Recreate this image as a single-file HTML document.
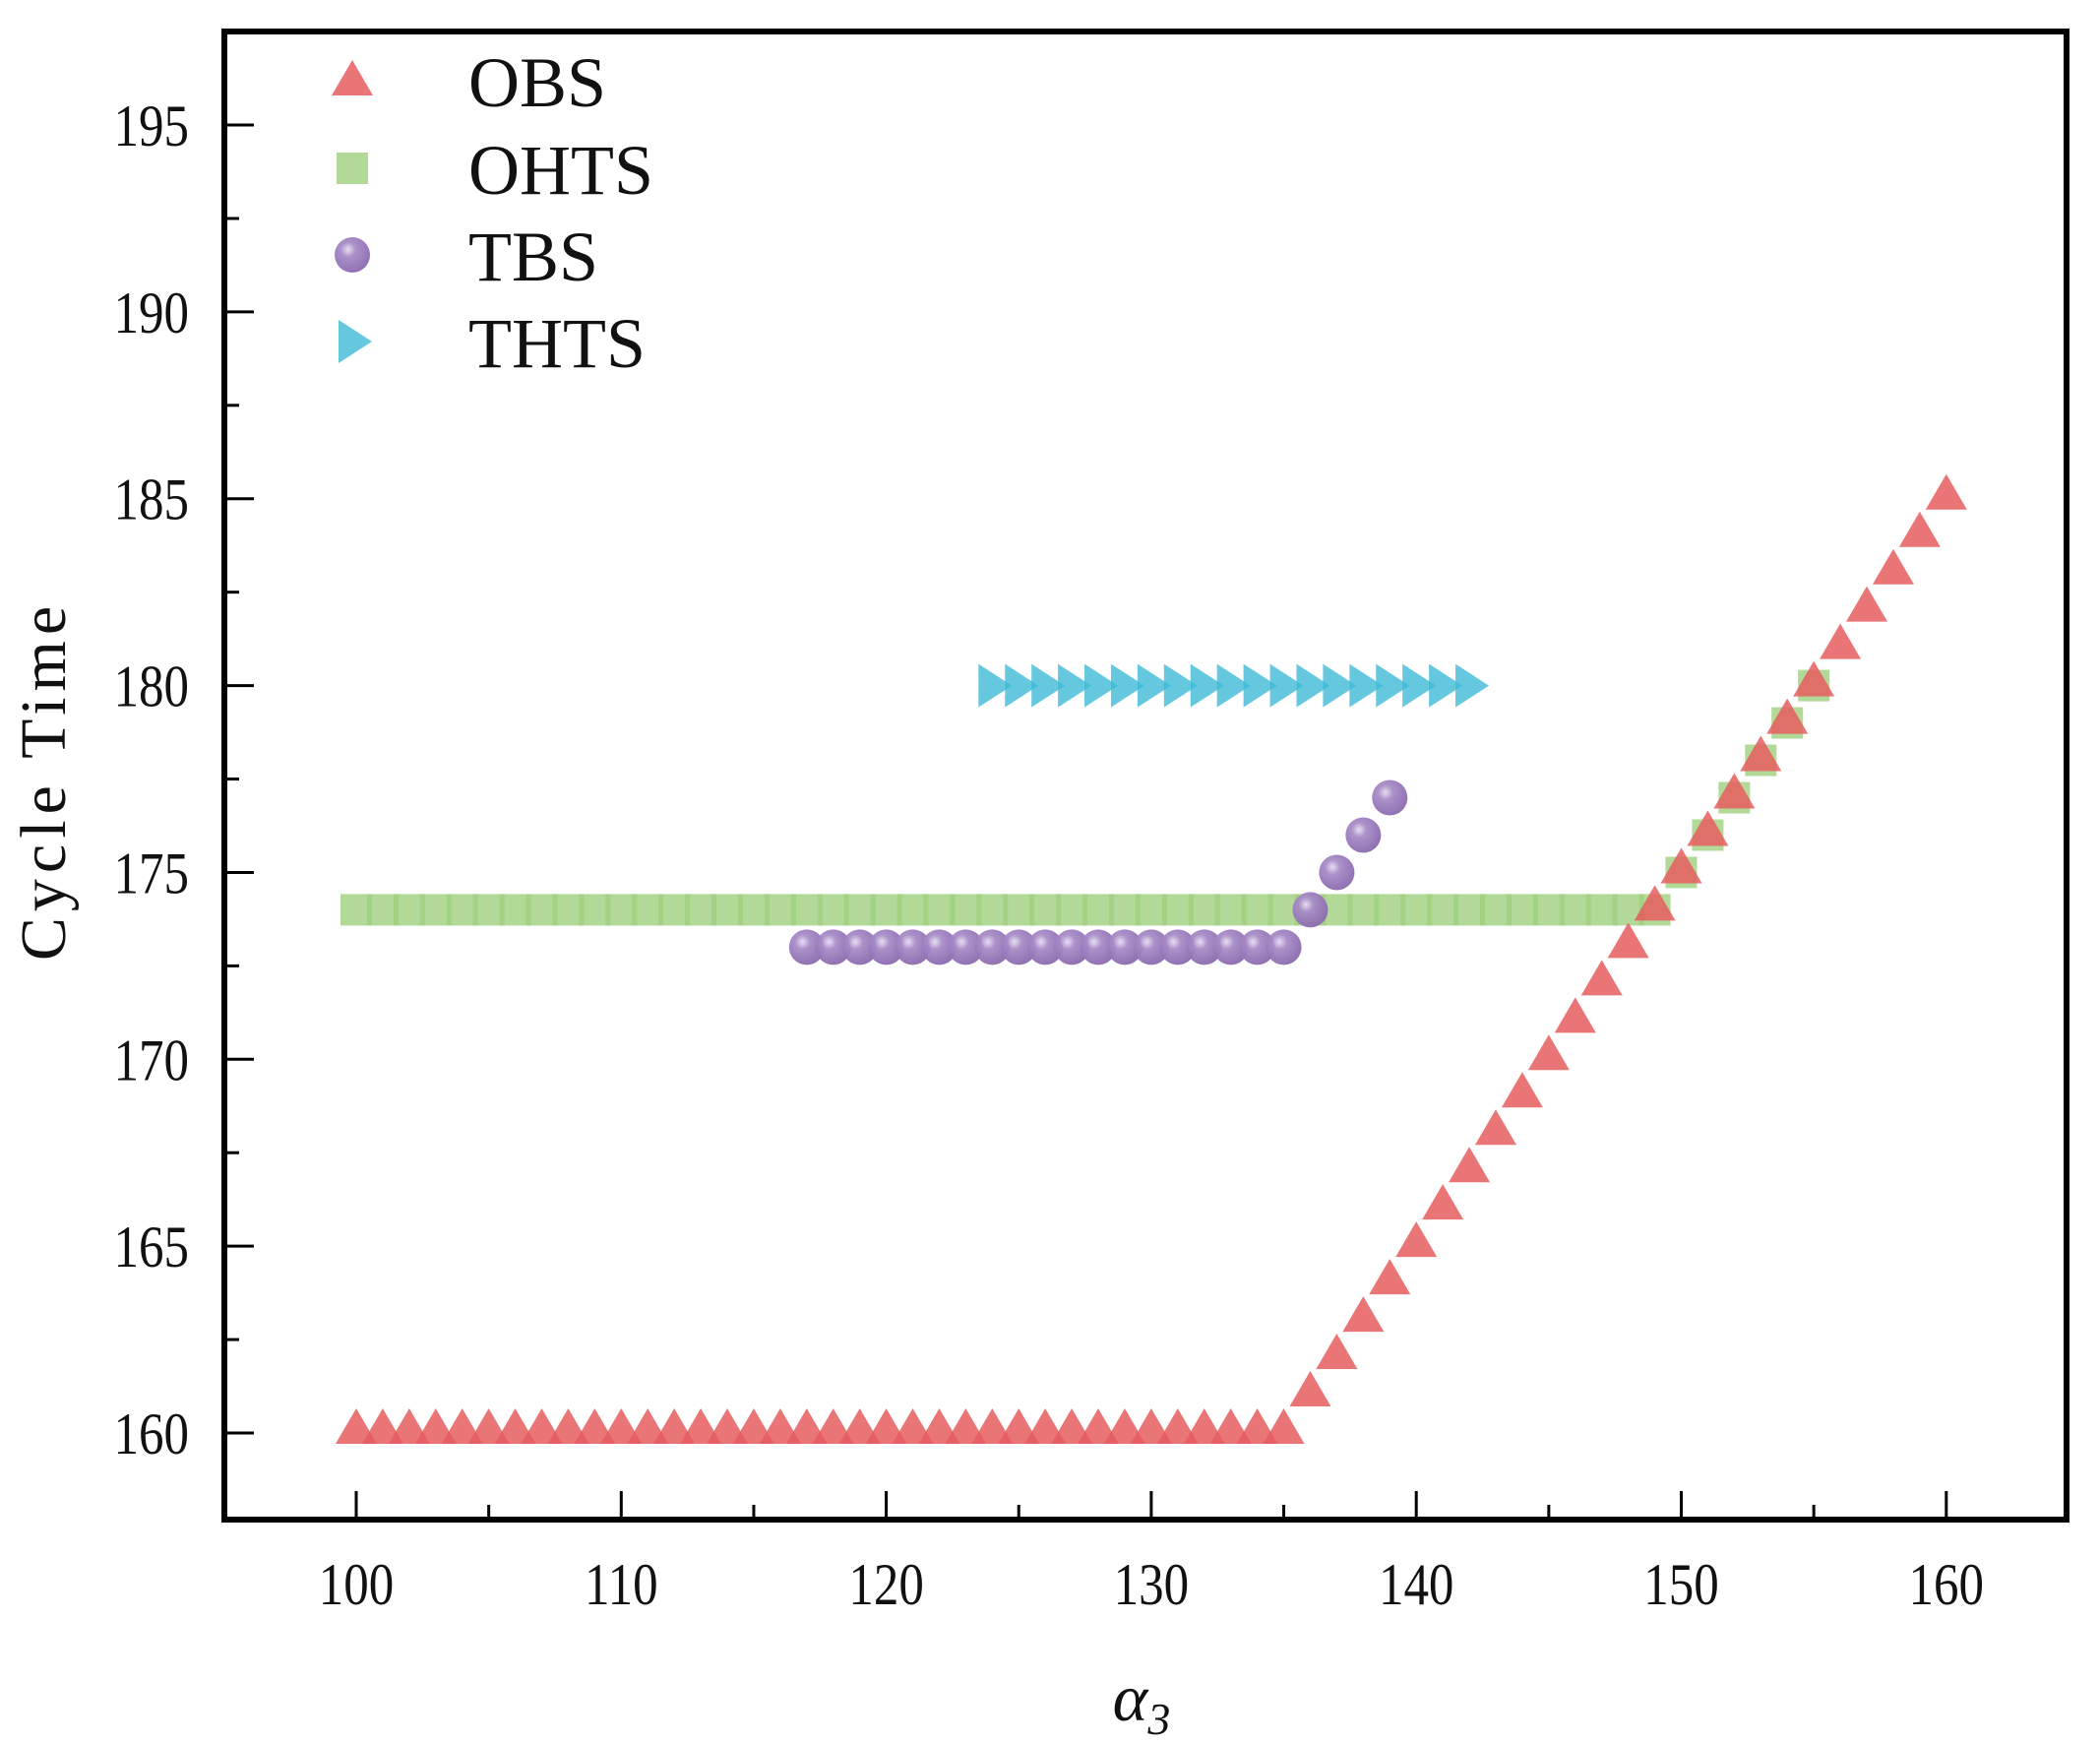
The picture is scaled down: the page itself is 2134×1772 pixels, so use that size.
<!DOCTYPE html>
<html><head><meta charset="utf-8"><style>
html,body{margin:0;padding:0;background:#fff;}
svg{display:block;}
text{font-family:"Liberation Serif",serif;fill:#111;}
</style></head><body>
<svg id="chart" width="2134" height="1772" viewBox="0 0 2134 1772">
<defs>
<radialGradient id="ball" cx="0.38" cy="0.35" r="0.7">
<stop offset="0" stop-color="#e6dcf2"/><stop offset="0.3" stop-color="#a78bc7"/><stop offset="1" stop-color="#8867ad"/>
</radialGradient>
</defs>
<g id="marks"></g>
<g id="axes"></g>
<g id="legend"></g>
<text x="1160" y="1748" font-size="68" font-style="italic" text-anchor="middle">α<tspan font-size="46" dy="14">3</tspan></text>
<text transform="translate(66,793) rotate(-90)" font-size="66" text-anchor="middle" letter-spacing="6">Cycle Time</text>
</svg>
<script>
const obsX=[100,101,102,103,104,105,106,107,108,109,110,111,112,113,114,115,116,117,118,119,120,121,122,123,124,125,126,127,128,129,130,131,132,133,134,135,136,137,138,139,140,141,142,143,144,145,146,147,148,149,150,151,152,153,154,155,156,157,158,159,160];
const obsY=[160,160,160,160,160,160,160,160,160,160,160,160,160,160,160,160,160,160,160,160,160,160,160,160,160,160,160,160,160,160,160,160,160,160,160,160,161,162,163,164,165,166,167,168,169,170,171,172,173,174,175,176,177,178,179,180,181,182,183,184,185];
const ohtsX=[100,101,102,103,104,105,106,107,108,109,110,111,112,113,114,115,116,117,118,119,120,121,122,123,124,125,126,127,128,129,130,131,132,133,134,135,136,137,138,139,140,141,142,143,144,145,146,147,148,149,150,151,152,153,154,155];
const ohtsY=[174,174,174,174,174,174,174,174,174,174,174,174,174,174,174,174,174,174,174,174,174,174,174,174,174,174,174,174,174,174,174,174,174,174,174,174,174,174,174,174,174,174,174,174,174,174,174,174,174,174,175,176,177,178,179,180];
const tbsX=[117,118,119,120,121,122,123,124,125,126,127,128,129,130,131,132,133,134,135,136,137,138,139];
const tbsY=[173,173,173,173,173,173,173,173,173,173,173,173,173,173,173,173,173,173,173,174,175,176,177];
const thtsX=[124,125,126,127,128,129,130,131,132,133,134,135,136,137,138,139,140,141,142];
const thtsY=[180,180,180,180,180,180,180,180,180,180,180,180,180,180,180,180,180,180,180];
const xTicks=[100,110,120,130,140,150,160];
const yTicks=[160,165,170,175,180,185,190,195];
const legendLabels=["OBS","OHTS","TBS","THTS"];

const NS="http://www.w3.org/2000/svg";
const L=228,R=2100,T=32,B=1544;
function sx(v){return 362+(v-100)*26.93;}
function sy(v){return 1456-(v-160)*37.97;}
function mk(tag,attrs,parent){const e=document.createElementNS(NS,tag);for(const k in attrs)e.setAttribute(k,attrs[k]);parent.appendChild(e);return e;}
const marks=document.getElementById('marks'),axes=document.getElementById('axes'),legend=document.getElementById('legend');

function square(x,y,p){return mk('rect',{x:x-16,y:y-16,width:32,height:32,fill:'#9fcf7e','fill-opacity':0.8},p);}
function tri(x,y,p){return mk('polygon',{points:`${x},${y-25} ${x-21},${y+11} ${x+21},${y+11}`,fill:'#e55d5f','fill-opacity':0.85},p);}
function ball(x,y,p){return mk('circle',{cx:x,cy:y,r:18,fill:'url(#ball)','fill-opacity':0.95},p);}
function rtri(x,y,p){return mk('polygon',{points:`${x-14},${y-22} ${x+20},${y} ${x-14},${y+22}`,fill:'#3fbad6','fill-opacity':0.8},p);}

ohtsX.forEach((v,i)=>{const e=square(sx(v),sy(ohtsY[i]),marks);

});
tbsX.forEach((v,i)=>{const e=ball(sx(v),sy(tbsY[i]),marks);

});
thtsX.forEach((v,i)=>{const e=rtri(sx(v),sy(thtsY[i]),marks);

});
obsX.forEach((v,i)=>{const e=tri(sx(v),sy(obsY[i]),marks);

});

const frame=mk('rect',{x:L,y:T,width:R-L,height:B-T,fill:'none',stroke:'#000','stroke-width':6},axes);


xTicks.forEach(v=>{const x=sx(v);
mk('line',{x1:x,y1:B,x2:x,y2:B-29,stroke:'#000','stroke-width':3},axes);
if(v<160) mk('line',{x1:sx(v+5),y1:B,x2:sx(v+5),y2:B-15,stroke:'#000','stroke-width':3},axes);
const t=mk('text',{x:x,y:1630,'font-size':60,'text-anchor':'middle',transform:`translate(${x},0) scale(0.85,1) translate(${-x},0)`},axes);t.textContent=v;

});
yTicks.forEach(v=>{const y=sy(v);
mk('line',{x1:L,y1:y,x2:L+30,y2:y,stroke:'#000','stroke-width':3},axes);
mk('line',{x1:L,y1:sy(v+2.5),x2:L+15,y2:sy(v+2.5),stroke:'#000','stroke-width':3},axes);
const t=mk('text',{x:192,y:y+21,'font-size':60,'text-anchor':'end',transform:`translate(192,0) scale(0.85,1) translate(-192,0)`},axes);t.textContent=v;

});

const lys=[82,171,259,347],fns=[tri,square,ball,rtri];
legendLabels.forEach((lab,i)=>{const g=mk('g',{},legend);


fns[i](358,lys[i]+(i===0?4:0),g);
const t=mk('text',{x:476,y:lys[i]+26,'font-size':72},g);t.textContent=lab;});
</script>
</body></html>
